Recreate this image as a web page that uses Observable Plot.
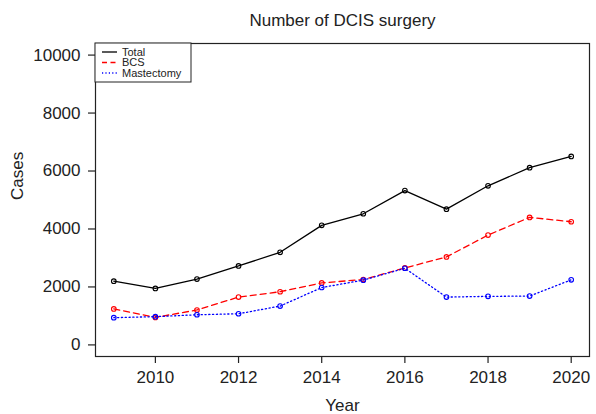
<!DOCTYPE html>
<html>
<head>
<meta charset="utf-8">
<script src="https://cdn.jsdelivr.net/npm/d3@7"></script>
<script src="https://cdn.jsdelivr.net/npm/@observablehq/plot@0.6"></script>
<style>
  html, body { margin: 0; padding: 0; background: #fff; }
  svg { font-family: "Liberation Sans", Arial, sans-serif; }
</style>
</head>
<body>
<div id="chart"></div>
<script>
const years = [2009, 2010, 2011, 2012, 2013, 2014, 2015, 2016, 2017, 2018, 2019, 2020];
const total = [2200, 1950, 2270, 2725, 3195, 4125, 4525, 5325, 4685, 5490, 6115, 6505];
const bcs = [1240, 950, 1205, 1650, 1835, 2140, 2255, 2655, 3035, 3790, 4400, 4250];
const mastectomy = [940, 975, 1040, 1075, 1340, 1980, 2235, 2645, 1650, 1675, 1685, 2245];
const seriesNames = ["Total", "BCS", "Mastectomy"];
const xTicks = [2010, 2012, 2014, 2016, 2018, 2020];
const yTicks = [0, 2000, 4000, 6000, 8000, 10000];
const titleText = "Number of DCIS surgery";

const colors = {Total: "#000000", BCS: "#ff0000", Mastectomy: "#0000ff"};
const dashes = {Total: null, BCS: "6,4", Mastectomy: "1.2,2.6"};
const seriesValues = {Total: total, BCS: bcs, Mastectomy: mastectomy};

const data = seriesNames.flatMap(s => years.map((y, i) => ({series: s, year: y, value: seriesValues[s][i]})));

const fs = 17;
const lineMarks = seriesNames.flatMap(s => {
  const d = data.filter(r => r.series === s);
  return [
    Plot.line(d, {x: "year", y: "value", stroke: colors[s], strokeWidth: 1.3, strokeDasharray: dashes[s]}),
    Plot.dot(d, {x: "year", y: "value", stroke: colors[s], r: 2.3, strokeWidth: 1.1, fill: "none"})
  ];
});

const chart = Plot.plot({
  width: 596,
  height: 414,
  marginLeft: 95,
  marginRight: 7,
  marginTop: 43,
  marginBottom: 58,
  style: {fontFamily: "'Liberation Sans', Arial, sans-serif", color: "#222", background: "#fff"},
  x: {domain: [2008.56, 2020.44]},
  y: {domain: [-400, 10400]},
  marks: [
    Plot.frame({stroke: "#222", strokeWidth: 1.2}),
    Plot.axisX({ticks: xTicks, tickFormat: d => String(d), tickSize: 7, tickPadding: 7, fontSize: fs, label: null, stroke: "#222", strokeWidth: 1.2}),
    Plot.axisY({ticks: yTicks, tickFormat: d => String(d), tickSize: 7, tickPadding: 8, fontSize: fs, label: null, stroke: "#222", strokeWidth: 1.2}),
    ...lineMarks,
    Plot.text([titleText], {frameAnchor: "top", dy: -23, lineAnchor: "middle", fontSize: fs, fill: "#222"}),
    Plot.text(["Year"], {frameAnchor: "bottom", dy: 49, lineAnchor: "middle", fontSize: fs, fill: "#222"}),
    Plot.text(["Cases"], {frameAnchor: "left", dx: -78, rotate: -90, fontSize: fs, fill: "#222"})
  ]
});

// legend (top-left, inside frame)
const svg = d3.select(chart);
const g = svg.append("g").attr("transform", "translate(95,43)");
g.append("rect").attr("x", 0).attr("y", 0).attr("width", 96).attr("height", 39)
  .attr("fill", "#fff").attr("stroke", "#222").attr("stroke-width", 1);
seriesNames.forEach((s, i) => {
  const yy = 9 + i * 10.5;
  g.append("line").attr("x1", 7).attr("x2", 22).attr("y1", yy).attr("y2", yy)
    .attr("stroke", colors[s]).attr("stroke-width", 1.3)
    .attr("stroke-dasharray", dashes[s] ? (s === "BCS" ? "5,3.5" : "1.2,2.2") : null);
  g.append("text").attr("x", 27).attr("y", yy).attr("dy", "0.35em")
    .attr("text-anchor", "start")
    .attr("font-size", 11).attr("fill", "#222").text(s);
});

document.getElementById("chart").appendChild(chart);
</script>
</body>
</html>
